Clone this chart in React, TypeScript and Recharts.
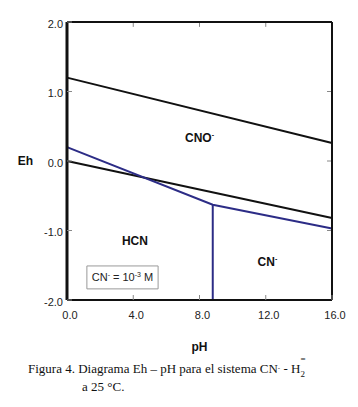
import React from 'react'
import { ComposedChart, Line, Scatter, XAxis, YAxis, ReferenceArea } from 'recharts'

// boundary lines of the Eh-pH diagram (pH, Eh in volts)
const upperWaterPH = [0, 16]
const upperWaterEh = [1.2, 0.26]
const lowerWaterPH = [0, 16]
const lowerWaterEh = [0.0, -0.82]
const cnoBoundaryPH = [0, 8.8, 16]
const cnoBoundaryEh = [0.2, -0.63, -0.97]
const hcnBoundaryPH = [8.8, 8.8]
const hcnBoundaryEh = [-0.63, -2.0]

// species labels
const regionNames = ['CNO', 'HCN', 'CN']
const regionCharge = ['-', '', '-']
const regionPH = [8.0, 4.1, 12.1]
const regionEh = [0.33, -1.14, -1.45]

const pHDomain = [0, 16]
const ehDomain = [-2, 2]
const xTicks = [0, 4, 8, 12, 16]
const yTicks = [-2, -1, 0, 1, 2]
const topInnerTicks = [4, 8, 12]
const rightInnerTicks = [-1, 0, 1]

const zip = (ph: number[], eh: number[]) => ph.map((p, i) => ({ pH: p, eh: eh[i] }))

const upperWater = zip(upperWaterPH, upperWaterEh)
const lowerWater = zip(lowerWaterPH, lowerWaterEh)
const cnoBoundary = zip(cnoBoundaryPH, cnoBoundaryEh)
const hcnBoundary = zip(hcnBoundaryPH, hcnBoundaryEh)
const regionLabels = regionNames.map((name, i) => ({
    name,
    charge: regionCharge[i],
    pH: regionPH[i],
    eh: regionEh[i],
}))

// top and right edges of the frame, plus their short inward ticks
const topEdge = zip([pHDomain[0], pHDomain[1]], [ehDomain[1], ehDomain[1]])
const rightEdge = zip([pHDomain[1], pHDomain[1]], [ehDomain[1], ehDomain[0]])
const topTickMarks = topInnerTicks.map(v => zip([v, v], [ehDomain[1], ehDomain[1] - 0.07]))
const rightTickMarks = rightInnerTicks.map(v => zip([pHDomain[1], pHDomain[1] - 0.3], [v, v]))

const SANS = 'Arial, "Liberation Sans", sans-serif'
const SERIF = '"Liberation Serif", "Times New Roman", serif'
const BLACK = '#111'
const NAVY = '#2c2c86'
const TICK = '#888'

const RegionShape = (props: any) => {
    const { cx, cy, payload } = props
    return (
        <text x={cx} y={cy} dy="0.36em" textAnchor="middle" fontFamily={SANS} fontSize={12} fontWeight="bold" fill="#111">
            {payload.name}
            {payload.charge && (
                <tspan dy={-5} fontSize={7}>{payload.charge}</tspan>
            )}
        </text>
    )
}

const BoxLabel = (props: any) => {
    const { viewBox } = props
    if (!viewBox) return null
    const cx = viewBox.x + viewBox.width / 2
    const cy = viewBox.y + viewBox.height / 2
    return (
        <text x={cx} y={cy} dy="0.36em" textAnchor="middle" fontFamily={SANS} fontSize={11} fill="#222">
            CN<tspan dy={-4} fontSize={7}>-</tspan>
            <tspan dy={4}> = 10</tspan>
            <tspan dy={-4} fontSize={7}>-3</tspan>
            <tspan dy={4}> M</tspan>
        </text>
    )
}

const tickStyle = { fill: '#222', fontSize: 11, fontFamily: SANS }
const fmt = (v: number) => v.toFixed(1)

const lineProps = { dataKey: 'eh', dot: false, activeDot: false, isAnimationActive: false }

export default function App() {
    return (
        <div style={{ position: 'absolute', left: 0, top: 0, width: 358, height: 407, background: '#fff' }}>
            <ComposedChart
                width={358}
                height={407}
                margin={{ top: 22, right: 26, left: 27, bottom: 77 }}
            >
                <XAxis
                    type="number"
                    dataKey="pH"
                    domain={pHDomain}
                    ticks={xTicks}
                    tickFormatter={fmt}
                    tick={tickStyle}
                    dx={3}
                    tickSize={-5}
                    tickMargin={16}
                    tickLine={{ stroke: TICK }}
                    axisLine={{ stroke: BLACK, strokeWidth: 2 }}
                    height={30}
                    label={{ value: 'pH', position: 'bottom', offset: 12, style: { fill: '#111', fontSize: 12, fontWeight: 'bold', fontFamily: SANS } }}
                />
                <YAxis
                    type="number"
                    domain={ehDomain}
                    ticks={yTicks}
                    tickFormatter={fmt}
                    tick={tickStyle}
                    dy={2}
                    tickSize={-5}
                    tickMargin={9}
                    tickLine={{ stroke: TICK }}
                    axisLine={{ stroke: BLACK, strokeWidth: 3 }}
                    width={40}
                    label={{ value: 'Eh', angle: 0, position: 'left', offset: -6, style: { fill: '#111', fontSize: 12, fontWeight: 'bold', fontFamily: SANS } }}
                />

                <ReferenceArea
                    x1={1.2}
                    x2={5.5}
                    y1={-1.84}
                    y2={-1.51}
                    fill="#fff"
                    fillOpacity={1}
                    stroke="#999"
                    strokeWidth={1}
                    label={<BoxLabel />}
                />

                <Line data={upperWater} stroke={BLACK} strokeWidth={2} {...lineProps} />
                <Line data={lowerWater} stroke={BLACK} strokeWidth={2} {...lineProps} />
                <Line data={cnoBoundary} stroke={NAVY} strokeWidth={2} {...lineProps} />
                <Line data={hcnBoundary} stroke={NAVY} strokeWidth={2} {...lineProps} />

                {topTickMarks.map((d, i) => (
                    <Line key={'t' + i} data={d} stroke={TICK} strokeWidth={1} {...lineProps} />
                ))}
                {rightTickMarks.map((d, i) => (
                    <Line key={'r' + i} data={d} stroke={TICK} strokeWidth={1} {...lineProps} />
                ))}
                <Line data={topEdge} stroke={BLACK} strokeWidth={2} {...lineProps} />
                <Line data={rightEdge} stroke={BLACK} strokeWidth={2} {...lineProps} />

                <Scatter data={regionLabels} dataKey="eh" shape={RegionShape} isAnimationActive={false} />
            </ComposedChart>

            <div
                style={{
                    position: 'absolute',
                    left: 28,
                    top: 361,
                    whiteSpace: 'nowrap',
                    fontFamily: SERIF,
                    fontSize: 13,
                    lineHeight: '15px',
                    color: '#111',
                }}
            >
                Figura 4. Diagrama Eh – pH para el sistema CN<sup style={{ fontSize: 7, verticalAlign: 'top' }}>-</sup> - H
                <span style={{ display: 'inline-block', position: 'relative', width: 7 }}>
                    <span style={{ position: 'absolute', left: 0, top: -9, fontSize: 9 }}>=</span>
                    <span style={{ position: 'relative', top: 4, fontSize: 9 }}>2</span>
                </span>
            </div>
            <div
                style={{
                    position: 'absolute',
                    left: 82,
                    top: 379,
                    whiteSpace: 'nowrap',
                    fontFamily: SERIF,
                    fontSize: 13,
                    lineHeight: '15px',
                    color: '#111',
                }}
            >
                a 25 °C.
            </div>
        </div>
    )
}
